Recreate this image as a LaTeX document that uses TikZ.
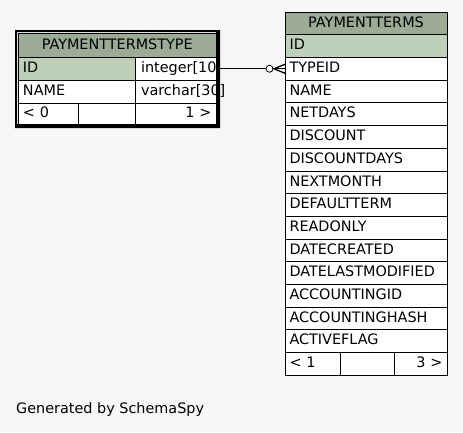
\documentclass[tikz,border=0pt]{standalone}
\usepackage{fontspec}
\setmainfont{DejaVu Sans}
\definecolor{bgfill}{HTML}{F7F7F7}
\definecolor{headfill}{HTML}{9BAB96}
\definecolor{pkfill}{HTML}{BED1B8}
\tikzset{
  cell/.style={draw, fill=white, line width=0.8pt, anchor=north west, inner xsep=4.5pt, inner ysep=3pt, outer sep=0pt,
    minimum height=22.7pt, text height=10.5pt, text depth=3pt, align=left,
    font=\fontsize{14.4}{17}\selectfont},
  hcell/.style={cell, fill=headfill, align=center},
  pkcell/.style={cell, fill=pkfill},
  rcell/.style={cell, align=right},
  tcell/.style={cell, inner xsep=6pt}
}
\begin{document}
\begin{tikzpicture}[x=1pt,y=-1pt]
\fill[bgfill] (0,0) rectangle (463,432);
\useasboundingbox (0,0) rectangle (463,432);
% PAYMENTTERMSTYPE
\fill[white] (17,32) rectangle (216,124);
\node[hcell, text width=188.5pt, minimum height=23.5pt] (ptt-0) at (18.5,33.5) {PAYMENTTERMSTYPE};
\node[pkcell, text width=107.5pt, minimum height=23pt] (ptt-1) at (18.5,57) {ID};
\node[tcell, text width=69pt, minimum height=23pt] (ptt-1t) at (135,57) {\mbox{integer[10}};
\node[cell, text width=107.5pt, minimum height=23pt] (ptt-2) at (18.5,80) {NAME};
\node[tcell, text width=69pt, minimum height=23pt] (ptt-2t) at (135,80) {\mbox{varchar[30]}};
\node[cell, text width=50.5pt, minimum height=21pt] (ptt-3) at (18.5,103) {< 0};
\node[cell, text width=48pt, minimum height=21pt] (ptt-3m) at (78,103) {};
\node[rcell, text width=72pt, minimum height=21pt] (ptt-3r) at (135,103) {1 >};
\fill[black, even odd rule] (15,30) rectangle (220,128) (17,32) rectangle (216,124);
% PAYMENTTERMS
\node[hcell, text width=153pt] (pt-0) at (285,12) {PAYMENTTERMS};
\node[pkcell, text width=153pt] (pt-1) at (285,34.7) {ID};
\foreach \f [count=\i from 2] in {TYPEID,NAME,NETDAYS,DISCOUNT,DISCOUNTDAYS,NEXTMONTH,DEFAULTTERM,READONLY,DATECREATED,DATELASTMODIFIED,ACCOUNTINGID,ACCOUNTINGHASH,ACTIVEFLAG}
  \node[cell, text width=153pt] (pt-\i) at (285,{12+\i*22.7}) {\f};
\node[cell, text width=46pt] (pt-15) at (285,352.5) {< 1};
\node[cell, text width=45pt] (pt-15m) at (340,352.5) {};
\node[rcell, text width=44pt] (pt-15r) at (394,352.5) {3 >};
% relation
\coordinate (crow) at ([xshift=-11pt]pt-2.west);
\draw[line width=0.8pt] (ptt-1t.east |- crow) -- (crow);
\draw[line width=0.8pt, fill=white] ([xshift=-4.5pt]crow) circle (3.5pt);
\draw[line width=1.3pt] ([yshift=4.5pt]pt-2.west) -- (crow) -- ([yshift=-4.5pt]pt-2.west);
\draw[line width=1.3pt] (crow) -- (pt-2.west);
\node[anchor=west, inner sep=0pt, font=\fontsize{14.4}{17}\selectfont] (gen) at (16,410) {Generated by SchemaSpy};
\end{tikzpicture}
\end{document}
